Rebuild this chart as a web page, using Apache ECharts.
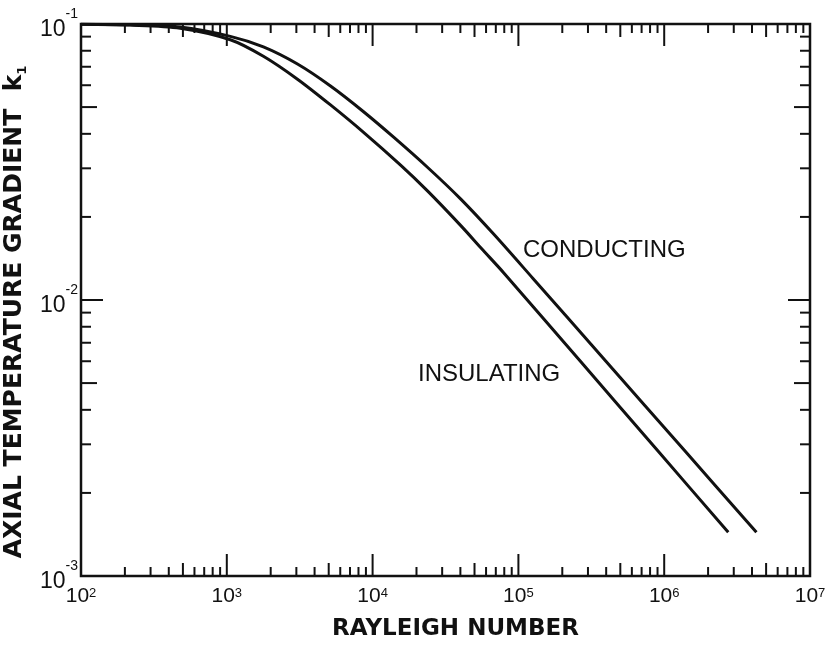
<!DOCTYPE html>
<html>
<head>
<meta charset="utf-8">
<title>Axial temperature gradient vs Rayleigh number</title>
<script src="https://cdn.jsdelivr.net/npm/echarts@6/dist/echarts.min.js"></script>
<style>
  html, body { margin: 0; padding: 0; background: #fff; }
  #chart { width: 825px; height: 647px; }
</style>
</head>
<body>
<div id="chart"></div>
<script>
// curves (Rayleigh number, k1)
const conductingRa = [100, 217, 479, 1057, 1782, 3053, 5144, 8670, 13940, 23880, 40270, 67870, 125900, 369000, 1370000, 4290000]
const conductingK = [0.0998, 0.0993, 0.0975, 0.0902, 0.0826, 0.0716, 0.0596, 0.0481, 0.0389, 0.0302, 0.0232, 0.0173, 0.01197, 0.00628, 0.00286, 0.00144]

const insulatingRa = [100, 217, 479, 1057, 1782, 3053, 5144, 8670, 15560, 23880, 40270, 56230, 79430, 269000, 910000, 2750000]
const insulatingK = [0.0998, 0.0991, 0.0966, 0.0877, 0.0764, 0.0631, 0.0509, 0.0405, 0.0308, 0.0248, 0.0186, 0.0153, 0.01253, 0.00596, 0.00283, 0.00144]

// axis ranges (decade exponents) and the labels printed in the figure
const xExp = [2, 3, 4, 5, 6, 7]
const yExp = [-3, -2, -1]
const xTitle = 'RAYLEIGH NUMBER'
const yTitle = 'AXIAL TEMPERATURE GRADIENT  {k|k}{sub|1}'
const curveNames = ['CONDUCTING', 'INSULATING']

const INK = '#111'
const xMin = Math.pow(10, xExp[0])
const xMax = Math.pow(10, xExp[xExp.length - 1])
const yMin = Math.pow(10, yExp[0])
const yMax = Math.pow(10, yExp[yExp.length - 1])

function pairs(xs, ys) {
  return xs.map((x, i) => [x, ys[i]])
}

// log ticks 1..9 in every decade, drawn inward on all four sides
function tickLen(m, major, mid, minor) {
  if (m === 1) return major
  if (m === 5) return mid
  return minor
}
const ticks = []
for (let i = 0; i < xExp.length - 1; i++) {
  for (let m = 1; m <= 9; m++) {
    ticks.push([m * Math.pow(10, xExp[i]), yMin, tickLen(m, 22, 13, 9), 0])
  }
}
for (let i = 0; i < yExp.length - 1; i++) {
  for (let m = 1; m <= 9; m++) {
    ticks.push([xMin, m * Math.pow(10, yExp[i]), tickLen(m, 22, 16, 10), 1])
  }
}

function powLabel(v) {
  return '{b|10}{s|' + Math.round(Math.log10(v)) + '}'
}

const chart = echarts.init(document.getElementById('chart'))

chart.setOption({
  animation: false,
  backgroundColor: '#fff',
  grid: {
    left: 81,
    right: 15,
    top: 24,
    bottom: 71,
    outerBoundsMode: 'none',
    containLabel: false,
    show: true,
    borderColor: INK,
    borderWidth: 2.5
  },
  xAxis: {
    type: 'log',
    logBase: 10,
    min: xMin,
    max: xMax,
    splitNumber: xExp.length - 1,
    axisLine: { show: false },
    axisTick: { show: false },
    splitLine: { show: false },
    axisLabel: {
      margin: 11,
      color: INK,
      formatter: powLabel,
      rich: {
        b: { fontFamily: 'Liberation Sans', fontSize: 21, lineHeight: 20, verticalAlign: 'bottom', color: INK },
        s: { fontFamily: 'Liberation Sans', fontSize: 13, lineHeight: 12, verticalAlign: 'top', color: INK }
      }
    },
    name: xTitle,
    nameLocation: 'middle',
    nameGap: 42,
    nameTextStyle: {
      fontFamily: 'DejaVu Sans',
      fontWeight: 'bold',
      fontSize: 23,
      color: INK,
      padding: [0, 0, 0, 20]
    }
  },
  yAxis: {
    type: 'log',
    logBase: 10,
    min: yMin,
    max: yMax,
    splitNumber: yExp.length - 1,
    axisLine: { show: false },
    axisTick: { show: false },
    splitLine: { show: false },
    axisLabel: {
      margin: 3,
      color: INK,
      formatter: powLabel,
      rich: {
        b: { fontFamily: 'Liberation Sans', fontSize: 23, lineHeight: 34, verticalAlign: 'bottom', color: INK },
        s: { fontFamily: 'Liberation Sans', fontSize: 14, lineHeight: 14, verticalAlign: 'top', color: INK }
      }
    },
    name: yTitle,
    nameLocation: 'middle',
    nameGap: 46,
    nameTextStyle: {
      fontFamily: 'DejaVu Sans',
      fontWeight: 'bold',
      fontSize: 25,
      lineHeight: 30,
      color: INK,
      padding: [0, 24, 0, 0],
      rich: {
        k: { fontFamily: 'DejaVu Sans', fontWeight: 'bold', fontSize: 25, lineHeight: 30, color: INK },
        sub: { fontFamily: 'DejaVu Sans', fontWeight: 'bold', fontSize: 13, lineHeight: 14, verticalAlign: 'bottom', color: INK }
      }
    }
  },
  graphic: [
    {
      type: 'text',
      left: 523,
      top: 238,
      style: { text: curveNames[0], fontFamily: 'Liberation Sans', fontSize: 24, fill: INK }
    },
    {
      type: 'text',
      left: 418,
      top: 362,
      style: { text: curveNames[1], fontFamily: 'Liberation Sans', fontSize: 24, fill: INK }
    }
  ],
  series: [
    {
      name: curveNames[0],
      type: 'line',
      data: pairs(conductingRa, conductingK),
      showSymbol: false,
      smooth: 0.3,
      lineStyle: { color: INK, width: 3 }
    },
    {
      name: curveNames[1],
      type: 'line',
      data: pairs(insulatingRa, insulatingK),
      showSymbol: false,
      smooth: 0.3,
      lineStyle: { color: INK, width: 3 }
    },
    {
      // tick marks on bottom/top (kind 0) and left/right (kind 1)
      type: 'custom',
      clip: false,
      silent: true,
      data: ticks,
      renderItem(params, api) {
        const len = api.value(2)
        const style = { stroke: INK, lineWidth: 2 }
        if (api.value(3) === 0) {
          const b = api.coord([api.value(0), yMin])
          const t = api.coord([api.value(0), yMax])
          return {
            type: 'group',
            children: [
              { type: 'line', shape: { x1: b[0], y1: b[1], x2: b[0], y2: b[1] - len }, style },
              { type: 'line', shape: { x1: t[0], y1: t[1], x2: t[0], y2: t[1] + len }, style }
            ]
          }
        }
        const l = api.coord([xMin, api.value(1)])
        const r = api.coord([xMax, api.value(1)])
        return {
          type: 'group',
          children: [
            { type: 'line', shape: { x1: l[0], y1: l[1], x2: l[0] + len, y2: l[1] }, style },
            { type: 'line', shape: { x1: r[0], y1: r[1], x2: r[0] - len, y2: r[1] }, style }
          ]
        }
      }
    }
  ]
})
</script>
</body>
</html>
